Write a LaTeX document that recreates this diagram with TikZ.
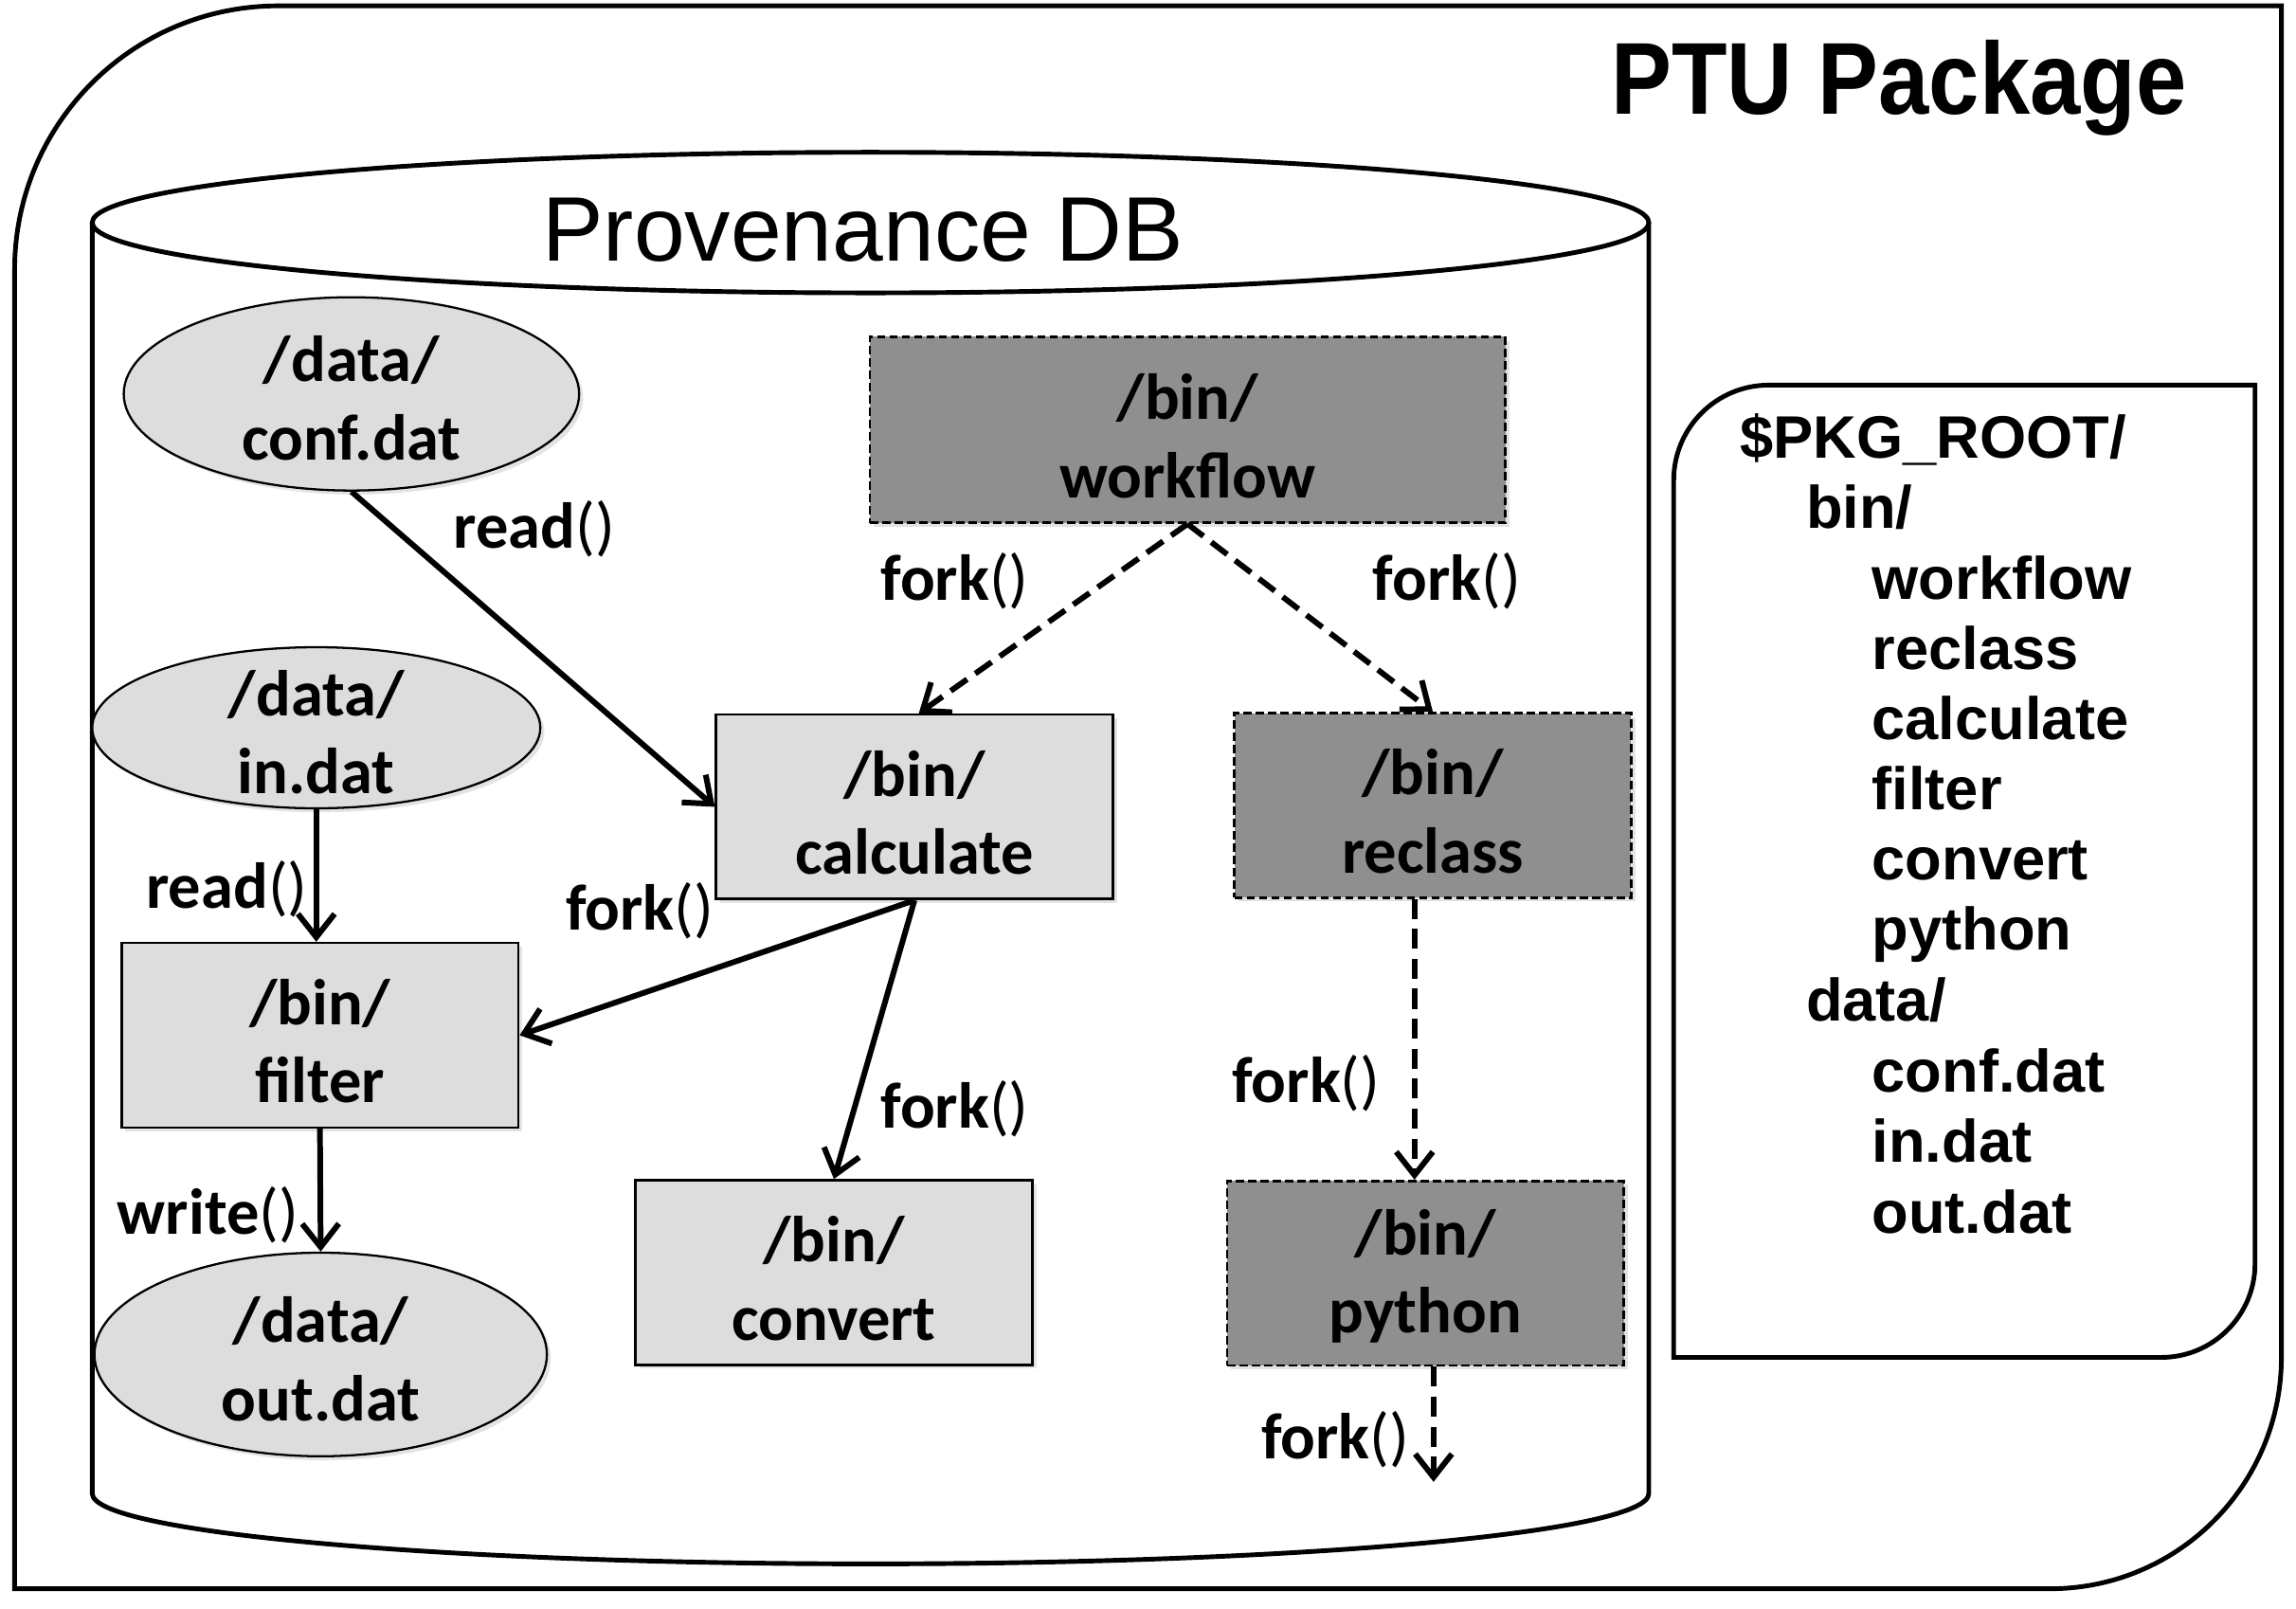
\documentclass[tikz,border=0pt]{standalone}
\usepackage{fontspec}
\newfontfamily\calib{Carlito}
\newfontfamily\arialf{Liberation Sans}
\usetikzlibrary{arrows.meta,shapes.geometric,shadows}
\definecolor{lightfill}{HTML}{DDDDDD}
\definecolor{darkfill}{HTML}{8F8F8F}
\def\pu{0.015453cm}
\newcommand\myparens{{\mdseries()}}
\begin{document}
\begin{tikzpicture}[x=\pu, y=-\pu,
  nodefont/.style={font=\calib\bfseries\fontsize{19.5}{23.5}\selectfont},
  lbl/.style={nodefont, inner sep=0pt, align=center},
  shad/.style={drop shadow={shadow xshift=1.2pt, shadow yshift=-1.2pt, opacity=0.22}},
  lightbox/.style={rectangle, draw, line width=0.75pt, fill=lightfill, shad,
    minimum width=271*\pu, minimum height=126*\pu, inner sep=0pt},
  darkbox/.style={lightbox, fill=darkfill, dash pattern=on 2.5pt off 1.2pt},
  ellip/.style={ellipse, draw, line width=0.65pt, fill=lightfill, inner sep=0pt, shad},
  arr/.style={line width=1.7pt, -{Straight Barb[length=7pt,width=11pt]}},
  darr/.style={arr, dash pattern=on 6pt off 3pt},
  frame/.style={line width=1.4pt},
  listtxt/.style={font=\arialf\bfseries\fontsize{18}{21}\selectfont, inner sep=0pt, anchor=base west}
]
\useasboundingbox (0,0) rectangle (1568,1098.2);

% outer package frame
\draw[frame, fill=white] (10,184) .. controls (10,84.6) and (90.6,4) .. (190,4) -- (1558,4) -- (1558,927)
  .. controls (1558,1014.3) and (1487.3,1085) .. (1400,1085) -- (10,1085) -- cycle;

\node[inner sep=0pt, anchor=base west, font=\arialf\bfseries\fontsize{30.7}{36}\selectfont] (ptu) at (1100,78)
  {\scalebox{0.888}[1]{PTU Package}};

% cylinder (Provenance DB)
\draw[frame, fill=white] (63,152) -- (63,1020)
  .. controls (63,1046.5) and (300.5,1068) .. (594.5,1068)
  .. controls (888.5,1068) and (1126,1046.5) .. (1126,1020) -- (1126,152);
\draw[frame, fill=white] (594.5,152) ellipse [x radius=531.5, y radius=48];
\node[inner sep=0pt, anchor=base west, font=\arialf\fontsize{27.5}{31}\selectfont] (provdb) at (370,178)
  {Provenance DB};

% package root listing box
\draw[frame, fill=white] (1143,328) .. controls (1143,292.1) and (1172.1,263) .. (1208,263) -- (1540,263) -- (1540,863)
  .. controls (1540,898.3) and (1511.3,927) .. (1476,927) -- (1143,927) -- cycle;
\node[listtxt] (l1) at (1188,313) {\$PKG\_ROOT/};
\node[listtxt] (l2) at (1233,361) {bin/};
\node[listtxt] (l3) at (1278,409) {workflow};
\node[listtxt] (l4) at (1278,457) {reclass};
\node[listtxt] (l5) at (1278,505) {calculate};
\node[listtxt] (l6) at (1278,553) {filter};
\node[listtxt] (l7) at (1278,601) {convert};
\node[listtxt] (l8) at (1278,649) {python};
\node[listtxt] (l9) at (1233,697) {data/};
\node[listtxt] (l10) at (1278,746) {conf.dat};
\node[listtxt] (l11) at (1278,794) {in.dat};
\node[listtxt] (l12) at (1278,842) {out.dat};

% data files
\node[ellip, minimum width=311*\pu, minimum height=132*\pu] (conf) at (240,269) {};
\node[lbl] (conft) at (240,272) {/data/\\conf.dat};
\node[ellip, minimum width=306*\pu, minimum height=110*\pu] (in) at (216,497) {};
\node[lbl] (int) at (216,500) {/data/\\in.dat};
\node[ellip, minimum width=309*\pu, minimum height=139*\pu] (out) at (219,925) {};
\node[lbl] (outt) at (219,928) {/data/\\out.dat};

% processes
\node[darkbox, minimum width=434*\pu, minimum height=127*\pu] (wf) at (811,293.5) {};
\node[lbl] (wft) at (811,298) {/bin/\\workflow};
\node[lightbox] (calc) at (624.5,551) {};
\node[lbl] (calct) at (624.5,555) {/bin/\\calculate};
\node[darkbox] (recl) at (978.5,550) {};
\node[lbl] (reclt) at (978.5,554) {/bin/\\reclass};
\node[lightbox] (filt) at (218.5,707) {};
\node[lbl] (filtt) at (218.5,711) {/bin/\\filter};
\node[lightbox] (conv) at (569.5,869) {};
\node[lbl] (convt) at (569.5,873) {/bin/\\convert};
\node[darkbox] (pyth) at (973.5,869.5) {};
\node[lbl] (pytht) at (973.5,871.5) {/bin/\\python};

\coordinate (fx) at (966,0);
\coordinate (pend) at (979,1012);

% connectors
\draw[arr] (conf.south) -- (calc.west);
\draw[arr] (in.south) -- (in.south |- filt.north);
\draw[arr] (calc.south) -- (filt.east);
\draw[arr] (calc.south) -- (conv.north);
\draw[arr] (filt.south) -- (out.north);
\draw[darr] (wf.south) -- ([xshift=3*\pu]calc.north);
\draw[darr] (wf.south) -- (recl.north);
\draw[darr] (recl.south -| fx) -- (pyth.north -| fx);
\draw[darr] (pyth.south -| pend) -- (pend);

% connector labels
\node[lbl] (e1) at (365,361) {read\myparens};
\node[lbl] (e2) at (155,607) {read\myparens};
\node[lbl] (e3) at (437,622) {fork\myparens};
\node[lbl] (e4) at (652,757) {fork\myparens};
\node[lbl] (e5) at (142,830) {write\myparens};
\node[lbl] (e6) at (652,397) {fork\myparens};
\node[lbl] (e7) at (988,397) {fork\myparens};
\node[lbl] (e8) at (892,740) {fork\myparens};
\node[lbl] (e9) at (912,983) {fork\myparens};
\end{tikzpicture}
\end{document}
